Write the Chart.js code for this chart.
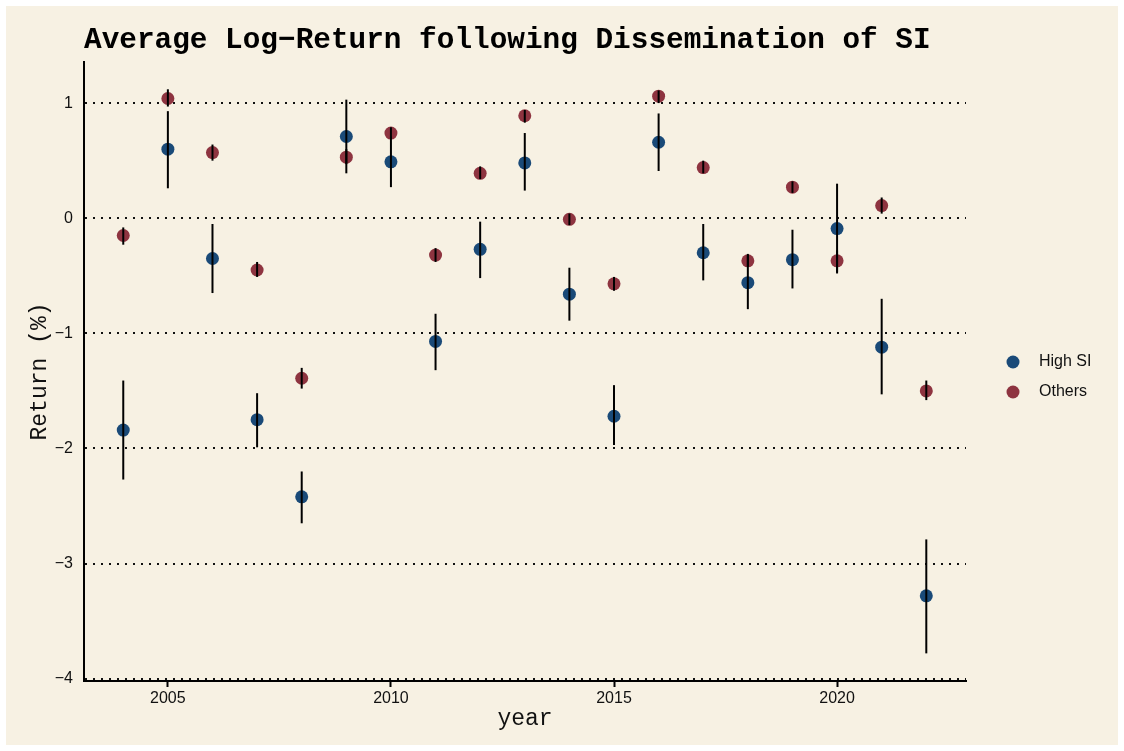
<!DOCTYPE html>
<html>
<head>
<meta charset="utf-8">
<script src="https://cdn.jsdelivr.net/npm/chart.js@4.4.1/dist/chart.umd.min.js"></script>
<style>
  html, body { margin: 0; padding: 0; background: #fff; }
  canvas { display: block; }
</style>
</head>
<body>
<canvas id="chart" width="1124" height="751"></canvas>
<script>
'use strict';

// values
let years = [2004, 2005, 2006, 2007, 2008, 2009, 2010, 2011, 2012, 2013,
  2014, 2015, 2016, 2017, 2018, 2019, 2020, 2021, 2022];

let highSI = [-1.84, 0.60, -0.35, -1.75, -2.42, 0.71, 0.49, -1.07, -0.27, 0.48,
  -0.66, -1.72, 0.66, -0.30, -0.56, -0.36, -0.09, -1.12, -3.28];
let highLow = [-2.27, 0.26, -0.65, -1.99, -2.65, 0.39, 0.27, -1.32, -0.52, 0.24,
  -0.89, -1.97, 0.41, -0.54, -0.79, -0.61, -0.48, -1.53, -3.78];
let highHigh = [-1.41, 0.93, -0.05, -1.52, -2.20, 1.03, 0.71, -0.83, -0.03, 0.74,
  -0.43, -1.45, 0.91, -0.05, -0.32, -0.10, 0.30, -0.70, -2.79];

let others = [-0.15, 1.04, 0.57, -0.45, -1.39, 0.53, 0.74, -0.32, 0.39, 0.89,
  -0.01, -0.57, 1.06, 0.44, -0.37, 0.27, -0.37, 0.11, -1.50];
let othersLow = [-0.23, 0.97, 0.50, -0.51, -1.48, 0.47, 0.69, -0.38, 0.34, 0.83,
  -0.06, -0.63, 1.00, 0.39, -0.42, 0.22, -0.47, 0.04, -1.58];
let othersHigh = [-0.08, 1.12, 0.64, -0.38, -1.30, 0.60, 0.79, -0.26, 0.45, 0.94,
  0.04, -0.51, 1.11, 0.50, -0.31, 0.32, -0.28, 0.18, -1.41];

let xTicks = [2005, 2010, 2015, 2020];
let yTicks = [-4, -3, -2, -1, 0, 1];

let seriesNames = ['High SI', 'Others'];
let seriesColors = ['#1a4a78', '#8e3440'];

let mono = '"Liberation Mono", "Courier New", monospace';
let sans = '"Liberation Sans", Arial, sans-serif';

function toPoints(vals) {
  let pts = [];
  for (let i = 0; i < years.length; i++) {
    pts.push({ x: years[i], y: vals[i] });
  }
  return pts;
}

let bars = [[highLow, highHigh], [othersLow, othersHigh]];

// beige panel with thin white margin
let backdrop = {
  id: 'backdrop',
  beforeDraw(chart) {
    let ctx = chart.ctx;
    ctx.save();
    ctx.fillStyle = '#ffffff';
    ctx.fillRect(0, 0, chart.width, chart.height);
    ctx.fillStyle = '#f7f1e3';
    ctx.fillRect(6, 6, chart.width - 12, chart.height - 12);
    ctx.restore();
  }
};

// vertical error bars, drawn through the chart scales
let errorBars = {
  id: 'errorBars',
  afterDatasetsDraw(chart) {
    let ctx = chart.ctx;
    let xs = chart.scales.x;
    let ys = chart.scales.y;
    ctx.save();
    ctx.strokeStyle = '#000';
    ctx.lineWidth = 2;
    for (let d = 0; d < bars.length; d++) {
      for (let i = 0; i < years.length; i++) {
        let px = xs.getPixelForValue(years[i]);
        ctx.beginPath();
        ctx.moveTo(px, ys.getPixelForValue(bars[d][0][i]));
        ctx.lineTo(px, ys.getPixelForValue(bars[d][1][i]));
        ctx.stroke();
      }
    }
    ctx.restore();
  }
};

// title and legend
let labels = {
  id: 'labels',
  afterDraw(chart) {
    let ctx = chart.ctx;
    let area = chart.chartArea;
    ctx.save();
    ctx.fillStyle = '#000';
    ctx.font = 'bold 29.4px ' + mono;
    ctx.textBaseline = 'alphabetic';
    ctx.textAlign = 'left';
    ctx.fillText('Average Log\u2212Return following Dissemination of SI', area.left, 48);

    let legendY = [362, 392];
    ctx.font = '16px ' + sans;
    ctx.textBaseline = 'middle';
    for (let i = 0; i < seriesNames.length; i++) {
      ctx.fillStyle = seriesColors[i];
      ctx.beginPath();
      ctx.arc(1013, legendY[i], 6.5, 0, Math.PI * 2);
      ctx.fill();
      ctx.fillStyle = '#111';
      ctx.fillText(seriesNames[i], 1039, legendY[i]);
    }
    ctx.restore();
  }
};

let canvasElem = document.getElementById('chart');

new Chart(canvasElem, {
  type: 'scatter',
  data: {
    datasets: [
      {
        label: seriesNames[0],
        data: toPoints(highSI),
        backgroundColor: seriesColors[0],
        borderWidth: 0,
        pointRadius: 6.5
      },
      {
        label: seriesNames[1],
        data: toPoints(others),
        backgroundColor: seriesColors[1],
        borderWidth: 0,
        pointRadius: 6.5
      }
    ]
  },
  options: {
    responsive: false,
    animation: false,
    devicePixelRatio: 1,
    layout: { padding: { left: 0, top: 62, right: 158, bottom: 0 } },
    plugins: {
      legend: { display: false },
      tooltip: { enabled: false }
    },
    scales: {
      x: {
        type: 'linear',
        min: 2003.12,
        max: 2022.89,
        afterFit(scale) { scale.height = 70; },
        afterBuildTicks(scale) { scale.ticks = xTicks.map(v => ({ value: v })); },
        grid: {
          drawOnChartArea: false,
          drawTicks: true,
          tickLength: 6,
          tickWidth: 2,
          tickColor: '#000'
        },
        border: { display: true, color: '#000', width: 2 },
        ticks: {
          color: '#111',
          padding: 2,
          maxRotation: 0,
          font: { family: sans, size: 16 },
          callback: v => String(v)
        },
        title: {
          display: true,
          text: 'year',
          color: '#111',
          font: { family: mono, size: 23 },
          padding: { top: 0, bottom: 18 }
        }
      },
      y: {
        type: 'linear',
        min: -4.02,
        max: 1.357,
        afterFit(scale) { scale.width = 84; },
        afterBuildTicks(scale) { scale.ticks = yTicks.map(v => ({ value: v })); },
        grid: {
          color: '#111',
          lineWidth: 2,
          drawTicks: false
        },
        border: { display: true, color: '#000', width: 2, dash: [2, 6] },
        ticks: {
          color: '#111',
          padding: 11,
          font: { family: sans, size: 16 },
          callback: v => String(v).replace('-', '\u2212')
        },
        title: {
          display: true,
          text: 'Return (%)',
          color: '#111',
          font: { family: mono, size: 23 },
          padding: { top: 26, bottom: 0 }
        }
      }
    }
  },
  plugins: [backdrop, errorBars, labels]
});
</script>
</body>
</html>
